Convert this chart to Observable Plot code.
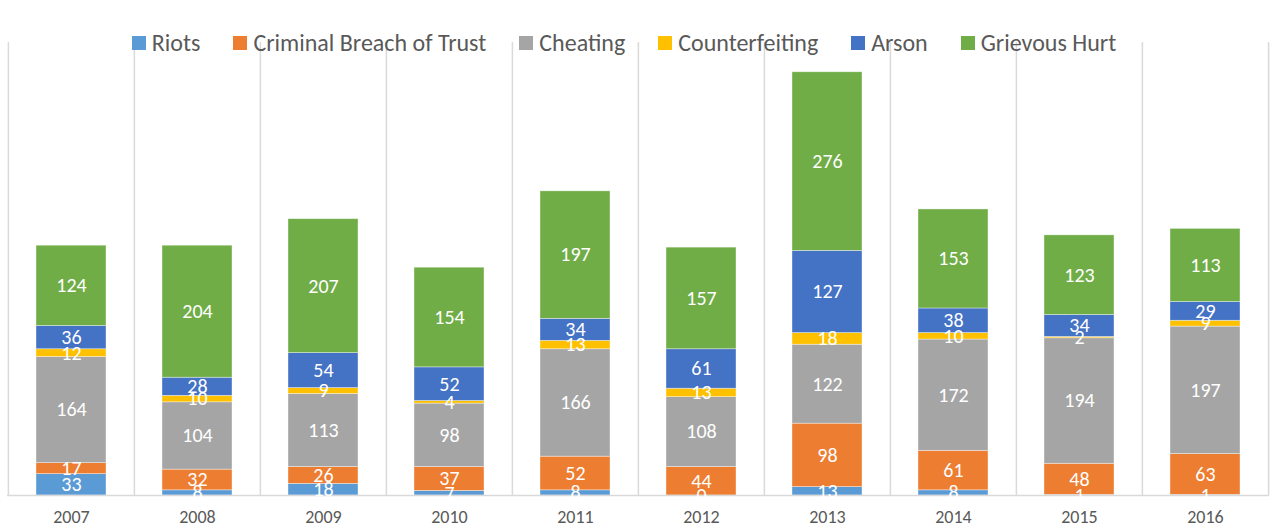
<!DOCTYPE html>
<html>
<head>
<meta charset="utf-8">
<script src="https://cdn.jsdelivr.net/npm/d3@7"></script>
<script src="https://cdn.jsdelivr.net/npm/@observablehq/plot@0.6"></script>
<style>
  html, body { margin: 0; padding: 0; background: #fff; }
  #wrap { position: relative; width: 1276px; height: 528px; font-family: Carlito, "Liberation Sans Narrow", "Open Sans", sans-serif; }
  #legend { position: absolute; top: 29px; left: 0; width: 1248px; display: flex; justify-content: center; gap: 33px; font-size: 24px; color: #595959; line-height: 28px; pointer-events: none; }
  #legend .item { display: flex; align-items: center; }
  #legend .sw { width: 14px; height: 14px; margin-right: 6px; }
</style>
</head>
<body>
<div id="wrap"><div id="legend"></div></div>
<script>
const years = ["2007","2008","2009","2010","2011","2012","2013","2014","2015","2016"];
const seriesNames = ["Riots","Criminal Breach of Trust","Cheating","Counterfeiting","Arson","Grievous Hurt"];
const colors = ["#5B9BD5","#ED7D31","#A5A5A5","#FFC000","#4472C4","#70AD47"];
const riots = [33, 8, 18, 7, 8, 0, 13, 8, 1, 1];
const breachOfTrust = [17, 32, 26, 37, 52, 44, 98, 61, 48, 63];
const cheating = [164, 104, 113, 98, 166, 108, 122, 172, 194, 197];
const counterfeiting = [12, 10, 9, 4, 13, 13, 18, 10, 2, 9];
const arson = [36, 28, 54, 52, 34, 61, 127, 38, 34, 29];
const grievousHurt = [124, 204, 207, 154, 197, 157, 276, 153, 123, 113];
const yTicks = [0, 700];

const seriesValues = [riots, breachOfTrust, cheating, counterfeiting, arson, grievousHurt];
const data = [];
seriesNames.forEach((s, i) => years.forEach((y, j) => data.push({year: y, series: s, value: seriesValues[i][j]})));

const W = 1276, H = 528, mL = 7, mR = 7, mT = 42, mB = 33;
const step = (W - mL - mR) / years.length;

const font = 'Carlito, "Liberation Sans Narrow", "Open Sans", sans-serif';

const chart = Plot.plot({
  width: W, height: H,
  marginLeft: mL, marginRight: mR, marginTop: mT, marginBottom: mB,
  style: {fontFamily: font, background: "transparent", overflow: "visible"},
  x: {domain: years, padding: 0, label: null},
  y: {domain: yTicks, axis: null},
  color: {domain: seriesNames, range: colors},
  marks: [
    Plot.ruleX(years, {x: d => d, dx: -step / 2, stroke: "#d9d9d9", strokeWidth: 1.5}),
    Plot.ruleX([years[years.length - 1]], {x: d => d, dx: step / 2, stroke: "#d9d9d9", strokeWidth: 1.5}),
    Plot.barY(data, {x: "year", y: "value", fill: "series", insetLeft: 28, insetRight: 28, stroke: "#ffffff", strokeOpacity: 0.5, strokeWidth: 0.75}),
    Plot.ruleY([0], {stroke: "#d9d9d9", strokeWidth: 1.5}),
    Plot.text(data, Plot.stackY({x: "year", y: "value", z: "series", text: d => String(d.value), fill: "white", fontSize: 20})),
    Plot.axisX({tickSize: 0, tickPadding: 15, fontSize: 18, color: "#595959", label: null})
  ]
});
const wrap = document.getElementById("wrap");
wrap.insertBefore(chart, wrap.firstChild);

const legend = document.getElementById("legend");
seriesNames.forEach((s, i) => {
  const it = document.createElement("div");
  it.className = "item";
  it.innerHTML = `<span class="sw" style="background:${colors[i]}"></span><span>${s}</span>`;
  legend.appendChild(it);
});
</script>
</body>
</html>
